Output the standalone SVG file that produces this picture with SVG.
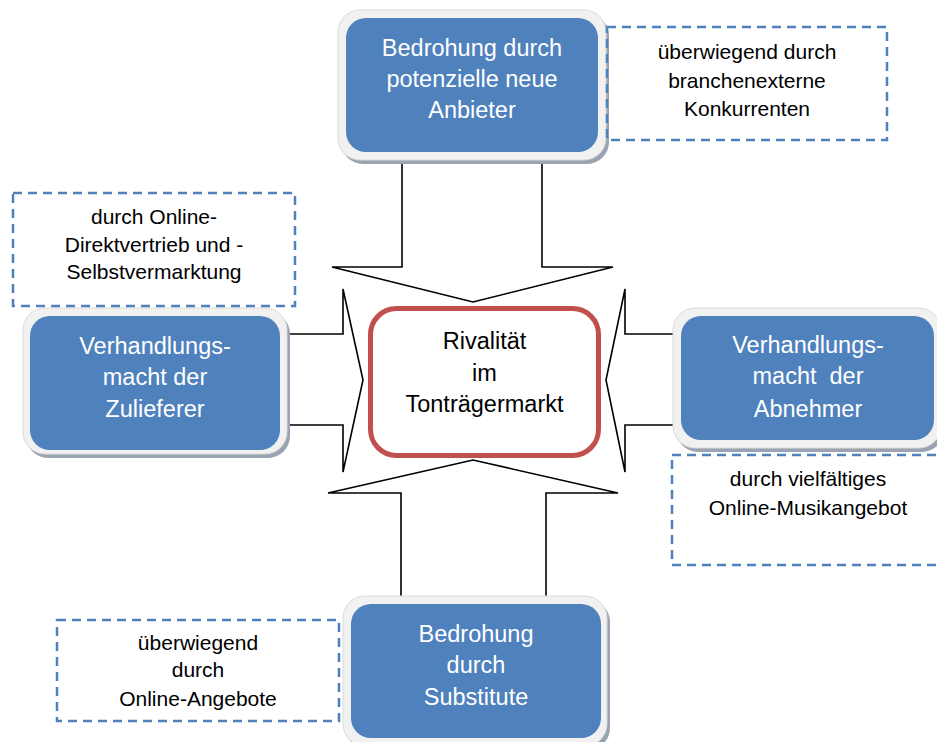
<svg xmlns="http://www.w3.org/2000/svg" width="937" height="742" viewBox="0 0 937 742">
<style>
.arrow{fill:#fff;stroke:#000;stroke-width:1.6;stroke-linejoin:miter}
.shadow{fill:#9AA3B1}
.frame{fill:#F1F1F1;stroke:#DADADA;stroke-width:1}
.blue{fill:#4F81BD}
.dash{fill:none;stroke:#4F81BD;stroke-width:2.5;stroke-dasharray:9 6}
.wt{font-family:"Liberation Sans",Arial,sans-serif;font-size:23.5px;fill:#fff;text-anchor:middle}
.bt{font-family:"Liberation Sans",Arial,sans-serif;font-size:23.5px;fill:#000;text-anchor:middle}
.dt{font-family:"Liberation Sans",Arial,sans-serif;font-size:21px;fill:#000;text-anchor:middle}
</style>
<rect width="937" height="742" fill="#fff"/>
<g id="connectors">
<polygon class="arrow" points="402,158 402,267 332,267 473,302 613,267 542,267 542,158"/>
<polygon class="arrow" points="285,334 343,334 343,289 363,380 343,472 343,425 285,425"/>
<polygon class="arrow" points="682,334 625,334 625,289 606,380 625,472 625,425 682,425"/>
<polygon class="arrow" points="401,600 401,493 328,493 473,460 618,493 546,493 546,600"/>
</g>
<g id="center">
<rect x="370.5" y="308.5" width="228" height="147" rx="26" fill="#fff" stroke="#C0504D" stroke-width="5"/>
<text class="bt" x="484.5" y="349">Rivalität</text>
<text class="bt" x="484.5" y="381">im</text>
<text class="bt" x="484.5" y="412">Tonträgermarkt</text>
</g>
<g id="top">
<rect class="shadow" x="341" y="14" width="268" height="150" rx="22"/>
<rect class="frame" x="338" y="10" width="268" height="150" rx="22"/>
<rect class="blue" x="346" y="18" width="252" height="134" rx="20"/>
<text class="wt" x="472" y="56">Bedrohung durch</text>
<text class="wt" x="472" y="87">potenzielle neue</text>
<text class="wt" x="472" y="118">Anbieter</text>
</g>
<g id="left">
<rect class="shadow" x="26" y="312" width="264" height="146" rx="22"/>
<rect class="frame" x="23" y="308" width="264" height="146" rx="22"/>
<rect class="blue" x="30" y="316" width="250" height="134" rx="20"/>
<text class="wt" x="155" y="354">Verhandlungs-</text>
<text class="wt" x="155" y="385">macht der</text>
<text class="wt" x="155" y="417">Zulieferer</text>
</g>
<g id="right">
<rect class="shadow" x="676" y="312" width="268" height="140" rx="22"/>
<rect class="frame" x="673" y="308" width="268" height="140" rx="22"/>
<rect class="blue" x="681" y="316" width="253" height="124" rx="20"/>
<text class="wt" x="808" y="353" xml:space="preserve">Verhandlungs-</text>
<text class="wt" x="808" y="384" xml:space="preserve">macht  der</text>
<text class="wt" x="808" y="417">Abnehmer</text>
</g>
<g id="bottom">
<rect class="shadow" x="346" y="600" width="264" height="150" rx="22"/>
<rect class="frame" x="343" y="596" width="264" height="150" rx="22"/>
<rect class="blue" x="351" y="604" width="250" height="134" rx="20"/>
<text class="wt" x="476" y="642">Bedrohung</text>
<text class="wt" x="476" y="673">durch</text>
<text class="wt" x="476" y="705">Substitute</text>
</g>
<g id="note-top">
<rect class="dash" x="607" y="27" width="280" height="113"/>
<text class="dt" x="747" y="59">überwiegend durch</text>
<text class="dt" x="747" y="88">branchenexterne</text>
<text class="dt" x="747" y="116">Konkurrenten</text>
</g>
<g id="note-left">
<rect class="dash" x="13" y="193" width="282" height="113"/>
<text class="dt" x="154" y="224">durch Online-</text>
<text class="dt" x="154" y="252">Direktvertrieb und -</text>
<text class="dt" x="154" y="279">Selbstvermarktung</text>
</g>
<g id="note-right">
<rect class="dash" x="672" y="455" width="272" height="110"/>
<text class="dt" x="808" y="486">durch vielfältiges</text>
<text class="dt" x="808" y="515">Online-Musikangebot</text>
</g>
<g id="note-bottom">
<rect class="dash" x="57" y="620" width="282" height="101"/>
<text class="dt" x="198" y="650">überwiegend</text>
<text class="dt" x="198" y="677">durch</text>
<text class="dt" x="198" y="706">Online-Angebote</text>
</g>
</svg>
